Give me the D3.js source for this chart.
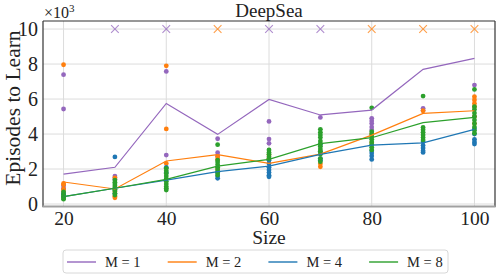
<html>
<head>
    <title>DeepSea</title>
    <script src="https://d3js.org/d3.v7.min.js"></script>
    <style>
        body { margin: 0; background: white; }
        text { font-family: "Liberation Serif", "DejaVu Serif", serif; fill: #222; }
        .grid line { stroke: #dcdcdc; stroke-width: 1; }
    </style>
</head>
<body>
<div id="chart"></div>
<script>
    // problem sizes on the x axis
    var sizes = [20, 30, 40, 50, 60, 70, 80, 90, 100];

    // line values (x10^3 episodes) per ensemble size M
    var lineM1 = [1.71, 2.1, 5.75, 3.98, 5.98, 5.09, 5.37, 7.7, 8.32];
    var lineM2 = [1.26, 0.86, 2.46, 2.82, 2.32, 2.85, 3.94, 5.18, 5.33];
    var lineM4 = [0.42, 0.9, 1.37, 1.85, 2.17, 2.84, 3.37, 3.5, 4.27];
    var lineM8 = [0.42, 0.9, 1.41, 2.17, 2.55, 3.45, 3.79, 4.65, 4.95];

    // individual seeds: [size, [values]]
    var seedsM1 = [
        [20, [7.39, 5.43, 1.05, 0.9]], [30, [1.6, 1.5, 1.4]], [40, [7.58, 2.8]],
        [50, [3.73, 2.93, 2.75]], [60, [4.72, 3.71, 3.47]], [70, [4.95]],
        [80, [4.9, 4.75, 4.6, 4.4, 4.23]], [90, [5.47, 5.35]], [100, [6.8, 5.0]]
    ];
    var seedsM2 = [
        [20, [7.96, 1.18, 1.1, 0.85, 0.7]], [30, [1.5, 0.7, 0.45, 0.36]], [40, [7.9, 4.29, 2.32]],
        [50, [2.7, 2.55, 2.0]], [60, [2.8, 2.6]], [70, [3.0, 2.3, 2.13]],
        [80, [4.0, 3.5]], [90, [5.33]], [100, [6.13, 5.95, 5.75, 5.56, 5.0, 4.6]]
    ];
    var seedsM4 = [
        [20, [0.6, 0.55, 0.4]], [30, [2.69, 0.8, 0.6]], [40, [2.1, 1.8]],
        [50, [1.8, 1.6, 1.47]], [60, [2.5, 2.3, 2.1, 1.95, 1.8, 1.65, 1.56]], [70, [3.4, 3.0, 2.6, 2.5]],
        [80, [3.05, 2.91, 2.75, 2.55]], [90, [3.56, 3.35, 3.2, 3.05, 2.95]], [100, [4.3, 4.0, 3.7, 3.55, 3.43]]
    ];
    var seedsM8 = [
        [20, [0.7, 0.55, 0.45, 0.35, 0.28]],
        [30, [1.37, 1.25, 1.15, 1.05, 0.95, 0.85, 0.75, 0.6, 0.51]],
        [40, [2.04, 1.9, 1.75, 1.6, 1.45, 1.3, 1.15, 1.0, 0.9, 0.8]],
        [50, [3.39, 2.51, 2.4, 2.25, 2.1, 1.95, 1.8, 1.66]],
        [60, [3.09, 2.95, 2.85, 2.7, 2.6]],
        [70, [4.27, 4.1, 3.95, 3.8, 3.6, 3.45, 3.3, 3.15, 3.0, 2.85, 2.6, 2.42]],
        [80, [5.5, 4.13, 4.0, 3.85, 3.7, 3.55, 3.4, 3.25, 3.09]],
        [90, [6.17, 4.38, 4.25, 4.1, 3.95, 3.8, 3.66]],
        [100, [6.55, 5.56, 5.4, 5.2, 5.0, 4.8, 4.6, 4.4, 4.2, 4.04]]
    ];

    // sizes where a run failed to learn (drawn as x at the top)
    var failM1 = [30, 40, 60, 70];
    var failM2 = [50, 80, 90, 100];
    var failValue = 10;

    var xTicks = [20, 40, 60, 80, 100];
    var yTicks = [0, 2, 4, 6, 8, 10];
    var labels = ["M = 1", "M = 2", "M = 4", "M = 8"];
    var colors = ["#9467bd", "#ff7f0e", "#1f77b4", "#2ca02c"];

    var series = [
        {seeds: seedsM1, line: lineM1, fail: failM1},
        {seeds: seedsM2, line: lineM2, fail: failM2},
        {seeds: seedsM4, line: lineM4, fail: []},
        {seeds: seedsM8, line: lineM8, fail: []}
    ];

    var width = 498, height = 276;
    var plot = {left: 43, right: 495, top: 21, bottom: 207};

    var x = d3.scaleLinear().domain([16, 104]).range([plot.left, plot.right]);
    var y = d3.scaleLinear().domain([-0.17, 10.46]).range([plot.bottom, plot.top]);

    var svg = d3.select("#chart").append("svg")
        .attr("width", width)
        .attr("height", height);

    // grid
    var grid = svg.append("g").attr("class", "grid");
    grid.selectAll("line.v").data(xTicks).join("line")
        .attr("x1", d => x(d)).attr("x2", d => x(d))
        .attr("y1", plot.top).attr("y2", plot.bottom);
    grid.selectAll("line.h").data(yTicks).join("line")
        .attr("x1", plot.left).attr("x2", plot.right)
        .attr("y1", d => y(d)).attr("y2", d => y(d));

    // seed dots
    series.forEach(function (s, i) {
        var pts = [];
        s.seeds.forEach(function (row) {
            row[1].forEach(function (v) { pts.push([row[0], v]); });
        });
        svg.append("g").selectAll("circle").data(pts).join("circle")
            .attr("cx", d => x(d[0]))
            .attr("cy", d => y(d[1]))
            .attr("r", 2.4)
            .attr("fill", colors[i]);
    });

    // lines
    var line = d3.line().x((d, i) => x(sizes[i])).y(d => y(d));
    series.forEach(function (s, i) {
        svg.append("path")
            .datum(s.line)
            .attr("d", line)
            .attr("fill", "none")
            .attr("stroke", colors[i])
            .attr("stroke-width", 1.2);
    });

    // failure crosses
    var cross = d3.symbol().type(d3.symbolX).size(40);
    series.forEach(function (s, i) {
        svg.append("g").selectAll("path").data(s.fail).join("path")
            .attr("d", cross)
            .attr("transform", d => "translate(" + x(d) + "," + y(failValue) + ")")
            .attr("fill", "none")
            .attr("stroke", colors[i])
            .attr("stroke-opacity", 0.75)
            .attr("stroke-width", 1.1);
    });

    // spines
    svg.append("line").attr("x1", plot.left).attr("x2", plot.right)
        .attr("y1", plot.top).attr("y2", plot.top)
        .attr("stroke", "#333").attr("stroke-width", 1.2);
    svg.append("line").attr("x1", plot.left).attr("x2", plot.left)
        .attr("y1", plot.top).attr("y2", plot.bottom)
        .attr("stroke", "#333").attr("stroke-width", 1.2);
    svg.append("line").attr("x1", plot.right).attr("x2", plot.right)
        .attr("y1", plot.top).attr("y2", plot.bottom)
        .attr("stroke", "#333").attr("stroke-width", 1.2);
    svg.append("line").attr("x1", plot.left - 0.6).attr("x2", plot.right + 0.6)
        .attr("y1", plot.bottom - 0.5).attr("y2", plot.bottom - 0.5)
        .attr("stroke", "#a0a0a0").attr("stroke-width", 2.2);

    // axes via d3 axis, with ticks styled like matplotlib (no tick marks)
    var xAxis = svg.append("g")
        .attr("transform", "translate(0," + plot.bottom + ")")
        .call(d3.axisBottom(x).tickValues(xTicks).tickSize(0).tickPadding(4));
    xAxis.select(".domain").remove();
    xAxis.selectAll("text").attr("font-size", 19.5).attr("fill", "#222")
        .attr("font-family", "Liberation Serif");

    var yAxis = svg.append("g")
        .attr("transform", "translate(" + plot.left + ",0)")
        .call(d3.axisLeft(y).tickValues(yTicks).tickSize(0).tickPadding(5));
    yAxis.select(".domain").remove();
    yAxis.selectAll("text").attr("font-size", 20).attr("fill", "#222")
        .attr("font-family", "Liberation Serif");

    // title and labels
    svg.append("text").attr("x", (plot.left + plot.right) / 2).attr("y", 17)
        .attr("text-anchor", "middle").attr("font-size", 19).text("DeepSea");

    var mult = svg.append("text").attr("x", plot.left + 1).attr("y", 18).attr("font-size", 16);
    mult.append("tspan").text("\u00d710");
    mult.append("tspan").attr("dy", -6).attr("font-size", 11).text("3");

    svg.append("text").attr("x", (plot.left + plot.right) / 2).attr("y", 244)
        .attr("text-anchor", "middle").attr("font-size", 19.5).text("Size");

    svg.append("text")
        .attr("transform", "translate(20,108) rotate(-90)")
        .attr("text-anchor", "middle").attr("font-size", 21.5).text("Episodes to Learn");

    // legend
    var legend = svg.append("g");
    legend.append("rect")
        .attr("x", 63).attr("y", 250).attr("width", 385).attr("height", 23)
        .attr("rx", 3).attr("fill", "white").attr("stroke", "#d8d8d8");
    var item = legend.selectAll("g.item").data(labels).join("g")
        .attr("transform", (d, i) => "translate(" + (67 + i * 100.7) + ",262)");
    item.append("line").attr("x1", 0).attr("x2", 29).attr("y1", 0).attr("y2", 0)
        .attr("stroke", (d, i) => colors[i]).attr("stroke-width", 1.4);
    item.append("text").attr("x", 38).attr("y", 5).attr("font-size", 14.5).text(d => d);
</script>
</body>
</html>
